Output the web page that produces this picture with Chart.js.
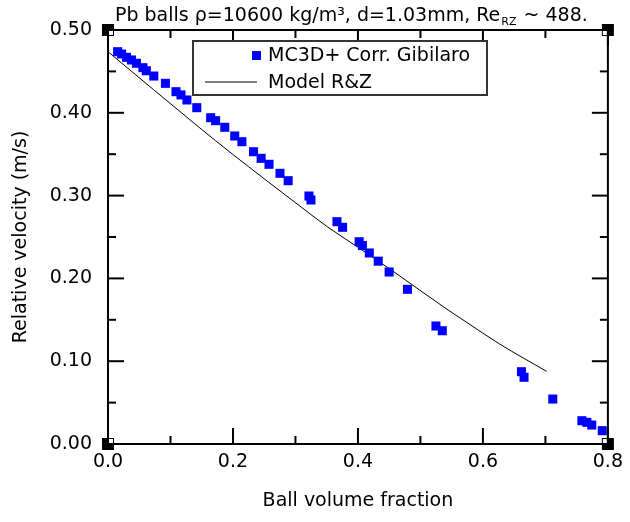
<!DOCTYPE html>
<html><head><meta charset="utf-8">
<script src="https://cdn.jsdelivr.net/npm/chart.js@4/dist/chart.umd.min.js"></script>
<style>html,body{margin:0;padding:0;background:#fff}#wrap{width:630px;height:522px}</style>
</head><body><div id="wrap"><canvas id="c" width="630" height="522"></canvas></div>
<script>
// Simulation data (MC3D+ Corr. Gibilaro)
const simX = [0.0154,0.0217,0.0296,0.0375,0.0455,0.0559,0.0613,0.0733,0.0919,0.1088,0.1168,0.1263,0.1421,0.1643,0.1722,0.1869,0.2028,0.2143,0.2329,0.2451,0.2577,0.2752,0.2883,0.3216,0.3248,0.3664,0.3754,0.4019,0.4071,0.4182,0.4325,0.4499,0.4792,0.5248,0.5350,0.6617,0.6658,0.7118,0.7584,0.7663,0.7742,0.7910];
const simY = [0.4738,0.4710,0.4670,0.4638,0.4598,0.4545,0.4508,0.4444,0.4356,0.4255,0.4216,0.4155,0.4062,0.3941,0.3905,0.3825,0.3720,0.3651,0.3530,0.3450,0.3378,0.3269,0.3180,0.2995,0.2947,0.2685,0.2617,0.2443,0.2397,0.2307,0.2208,0.2077,0.1868,0.1425,0.1368,0.0873,0.0806,0.0543,0.0281,0.0262,0.0229,0.0161];
// Model R&Z curve
const modelX = [0.0,0.1457,0.1985,0.2514,0.3042,0.3517,0.4044,0.4574,0.5391,0.5735,0.6262,0.7018];
const modelY = [0.4738,0.3825,0.3505,0.3195,0.2890,0.2620,0.2355,0.2080,0.1645,0.1472,0.1210,0.0878];
const xMajor = [0,0.2,0.4,0.6,0.8];
const xMinor = [0.1,0.3,0.5,0.7];
const yMajor = [0,0.1,0.2,0.3,0.4,0.5];
const yMinor = [0.05,0.15,0.25,0.35,0.45];
const seriesLabels = ['MC3D+ Corr. Gibilaro','Model R&Z'];
const titleParts = ['Pb balls \u03c1=10600 kg/m\u00b3, d=1.03mm, Re','RZ',' ~ 488.'];
const xTitle = 'Ball volume fraction';
const yTitle = 'Relative velocity (m/s)';

const FONT = '"DejaVu Sans", sans-serif';
const BLUE = '#0000ff';

const decor = {
  id:'decor',
  afterDraw(chart){
    const ctx = chart.ctx, a = chart.chartArea;
    const xs = chart.scales.x, ys = chart.scales.y;
    ctx.save();
    ctx.strokeStyle = '#000'; ctx.lineWidth = 2;
    const tick = (x1,y1,x2,y2)=>{ctx.beginPath();ctx.moveTo(x1,y1);ctx.lineTo(x2,y2);ctx.stroke();};
    xMajor.forEach(v=>{const p=xs.getPixelForValue(v);tick(p,a.bottom,p,a.bottom-16);tick(p,a.top,p,a.top+16);});
    xMinor.forEach(v=>{const p=xs.getPixelForValue(v);tick(p,a.bottom,p,a.bottom-8);tick(p,a.top,p,a.top+8);});
    yMajor.forEach(v=>{const p=ys.getPixelForValue(v);tick(a.left,p,a.left+16,p);tick(a.right,p,a.right-16,p);});
    yMinor.forEach(v=>{const p=ys.getPixelForValue(v);tick(a.left,p,a.left+8,p);tick(a.right,p,a.right-8,p);});
    const corners = [[a.left,a.top,1,1],[a.right,a.top,-1,1],[a.left,a.bottom,1,-1],[a.right,a.bottom,-1,-1]];
    corners.forEach(([cx,cy,dx,dy])=>{
      ctx.fillStyle='#000'; ctx.fillRect(cx-6,cy-6,12,12);
      ctx.fillStyle='#fff'; ctx.fillRect(dx>0?cx+1:cx-5, dy>0?cy+1:cy-5,4,4);
    });
    ctx.strokeStyle='#000'; ctx.lineWidth=2;
    ctx.strokeRect(a.left,a.top,a.right-a.left,a.bottom-a.top);
    // title
    ctx.fillStyle='#000'; ctx.textBaseline='alphabetic'; ctx.textAlign='left';
    ctx.font='19px '+FONT;
    let tx = 115, ty = 21;
    ctx.fillText(titleParts[0],tx,ty); tx += ctx.measureText(titleParts[0]).width;
    ctx.font='11px '+FONT;
    ctx.fillText(titleParts[1],tx+1,ty+4); tx += ctx.measureText(titleParts[1]).width+2;
    ctx.font='19px '+FONT;
    ctx.fillText(titleParts[2],tx,ty);
    // legend
    ctx.strokeStyle='#333'; ctx.lineWidth=2;
    ctx.fillStyle='#fff';
    ctx.fillRect(193,41,294,54);
    ctx.strokeRect(193,41,294,54);
    ctx.fillStyle=BLUE; ctx.fillRect(252,51,9,9);
    ctx.strokeStyle='#000'; ctx.lineWidth=1;
    ctx.beginPath(); ctx.moveTo(205,82); ctx.lineTo(257,82); ctx.stroke();
    ctx.fillStyle='#000'; ctx.font='19px '+FONT; ctx.textBaseline='middle';
    ctx.fillText(seriesLabels[0],268,56);
    ctx.fillText(seriesLabels[1],268,83);
    ctx.restore();
  }
};

new Chart(document.getElementById('c'), {
  data: {
    datasets: [
      { type:'scatter', label: seriesLabels[0], data: simX.map((x,i)=>({x, y: simY[i]})),
        pointStyle:'rect', pointRadius:6.4, pointHoverRadius:6.4, backgroundColor:BLUE, borderColor:BLUE, borderWidth:0 },
      { type:'line', label: seriesLabels[1], data: modelX.map((x,i)=>({x, y: modelY[i]})),
        borderColor:'#000', borderWidth:1, pointRadius:0, fill:false, cubicInterpolationMode:'monotone' }
    ]
  },
  options: {
    responsive:false, animation:false,
    layout:{ padding:{ left:0, right:17, top:30, bottom:0 } },
    plugins:{ legend:{display:false}, tooltip:{enabled:false}, title:{display:false} },
    scales:{
      x:{ type:'linear', min:0, max:0.8,
        afterFit(s){ s.height = 78; },
        grid:{ display:false, drawTicks:false }, border:{display:false},
        afterBuildTicks(s){ s.ticks = xMajor.map(v=>({value:v})); },
        ticks:{ padding:7, color:'#000', font:{family:FONT,size:19}, maxRotation:0, autoSkip:false, callback:v=>v.toFixed(1) },
        title:{ display:true, text:xTitle, color:'#000', font:{family:FONT,size:19}, padding:{top:0,bottom:10} }
      },
      y:{ type:'linear', min:0, max:0.5,
        afterFit(s){ s.width = 108; },
        grid:{ display:false, drawTicks:false }, border:{display:false},
        afterBuildTicks(s){ s.ticks = yMajor.map(v=>({value:v})); },
        ticks:{ padding:16, color:'#000', font:{family:FONT,size:19}, autoSkip:false, callback:v=>v.toFixed(2) },
        title:{ display:true, text:yTitle, color:'#000', font:{family:FONT,size:19}, padding:{top:10,bottom:0} }
      }
    }
  },
  plugins:[decor]
});
</script>
</body></html>
